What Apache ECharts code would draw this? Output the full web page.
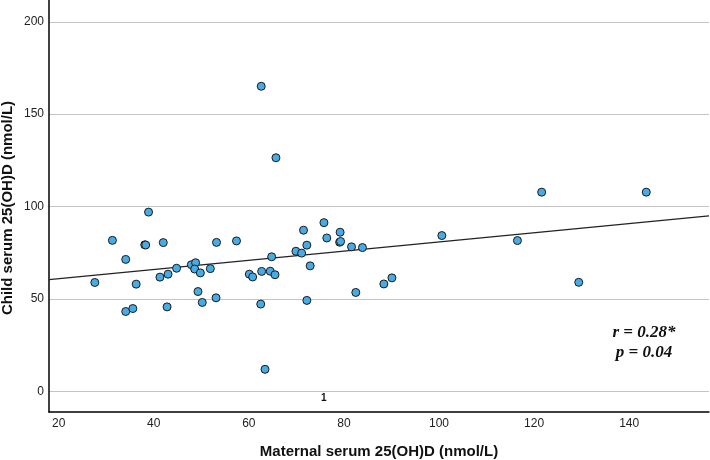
<!DOCTYPE html>
<html>
<head>
<meta charset="utf-8">
<script src="https://cdn.jsdelivr.net/npm/echarts@6/dist/echarts.min.js"></script>
<style>html,body{margin:0;padding:0;background:#fff}#c{width:710px;height:460px}</style>
</head>
<body>
<div id="c"></div>
<script>
// Maternal serum 25(OH)D (x) and child serum 25(OH)D (y), nmol/L
const maternal = [27.6,31.3,34.1,34.1,35.6,36.3,38.1,38.3,38.9,41.3,42.0,42.8,43.0,44.8,47.9,48.8,48.6,49.8,49.3,50.2,51.9,53.1,53.2,57.4,60.1,60.8,62.6,62.7,62.5,63.4,64.5,64.8,65.5,65.7,69.9,71.1,71.5,72.2,72.9,72.2,75.8,76.4,79.2,79.1,79.3,81.6,83.9,82.5,88.4,90.1,100.6,116.5,121.6,129.4,143.6];
const child    = [58.9,81.7,71.4,43.2,44.8,58.0,79.3,79.2,97.0,61.8,80.5,45.7,63.4,66.6,68.5,69.6,66.2,64.1,54.0,48.1,66.4,50.6,80.6,81.4,63.4,61.9,165.1,64.9,47.2,11.9,65.0,72.8,63.1,126.4,75.8,74.8,87.2,79.1,67.9,49.2,91.3,83.0,86.1,80.7,81.1,78.2,77.8,53.5,58.1,61.4,84.3,81.6,107.8,59.0,107.8];
const xTicks = [20,40,60,80,100,120,140];
const yTicks = [0,50,100,150,200];
const xRange = [17.96, 156.8];
const yRange = [-11.2, 211.8];
const fitIntercept = 56.0;
const fitSlope = 0.2486;
const xTitle = 'Maternal serum 25(OH)D (nmol/L)';
const yTitle = 'Child serum 25(OH)D (nmol/L)';
const statLines = ['r = 0.28*', 'p = 0.04'];
const caseLabel = '1';

const points = maternal.map((x, i) => [x, child[i]]);
const fitLine = xRange.map(x => [x, fitIntercept + fitSlope * x]);

const chart = echarts.init(document.getElementById('c'), null, {renderer: 'canvas'});
chart.setOption({
  animation: false,
  backgroundColor: '#ffffff',
  grid: {left: 49, right: 1, top: 0, bottom: 48, containLabel: false, outerBoundsMode: 'none'},
  xAxis: {
    type: 'value', min: xRange[0], max: xRange[1],
    name: xTitle, nameLocation: 'middle', nameGap: 32,
    nameTextStyle: {fontFamily: 'Liberation Sans', fontWeight: 'bold', fontSize: 15, color: '#111'},
    axisLine: {show: true, onZero: false, lineStyle: {color: '#000', width: 1.5}},
    axisTick: {show: false, customValues: xTicks},
    axisLabel: {customValues: xTicks, fontFamily: 'Liberation Sans', fontSize: 12, color: '#222', margin: 6},
    splitLine: {show: false}
  },
  yAxis: {
    type: 'value', min: yRange[0], max: yRange[1],
    axisLine: {show: true, onZero: false, lineStyle: {color: '#000', width: 1.5}},
    axisTick: {show: false, customValues: yTicks},
    axisLabel: {customValues: yTicks, fontFamily: 'Liberation Sans', fontSize: 12, color: '#222', margin: 5},
    splitLine: {show: true, lineStyle: {color: '#c4c4c4', width: 1}}
  },
  series: [
    {
      type: 'line', data: fitLine, symbol: 'none', silent: true,
      lineStyle: {color: '#222', width: 1.2}, z: 2
    },
    {
      type: 'scatter', data: points, symbol: 'circle', symbolSize: 8,
      itemStyle: {color: '#48abe6', borderColor: '#1a1a1a', borderWidth: 1, opacity: 1}, z: 3
    }
  ],
  graphic: [
    {type: 'text', x: 8, y: 208, rotation: Math.PI / 2, style: {text: yTitle, font: 'bold 15px "Liberation Sans"', fill: '#111', align: 'center', verticalAlign: 'middle'}},
    {type: 'text', left: 321, top: 393, style: {text: caseLabel, font: 'bold 10px "Liberation Sans"', fill: '#111'}},
    {type: 'text', x: 644, y: 333, style: {text: statLines[0], font: 'italic bold 17px "Liberation Serif"', fill: '#111', align: 'center', verticalAlign: 'middle'}},
    {type: 'text', x: 644, y: 353, style: {text: statLines[1], font: 'italic bold 17px "Liberation Serif"', fill: '#111', align: 'center', verticalAlign: 'middle'}}
  ]
});
</script>
</body>
</html>
